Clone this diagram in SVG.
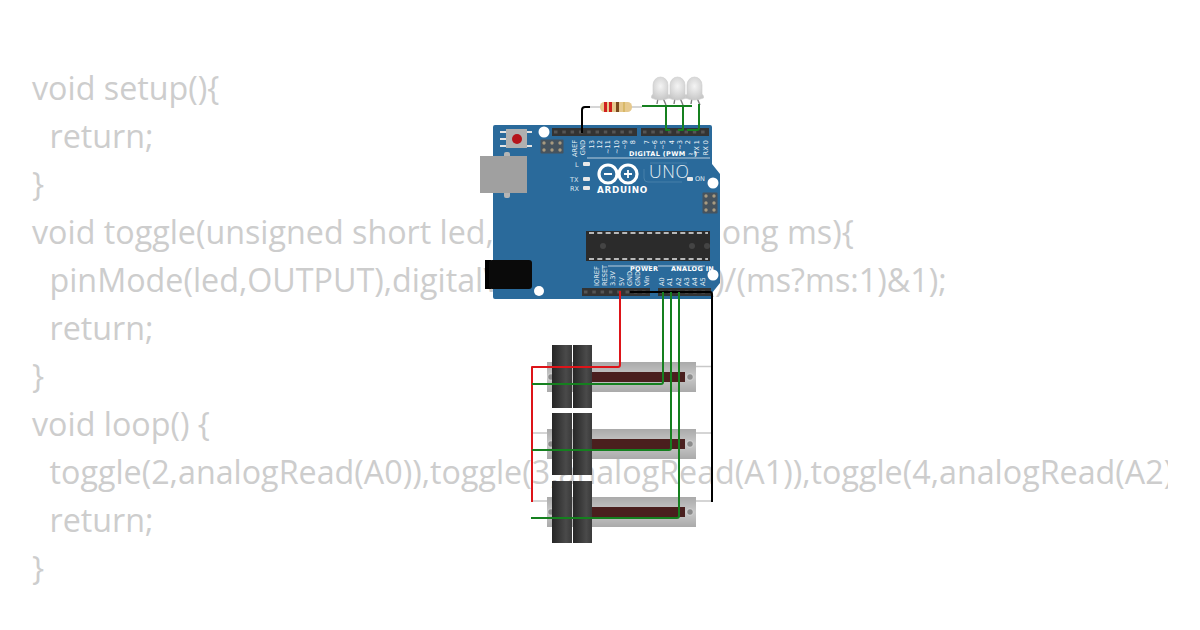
<svg xmlns="http://www.w3.org/2000/svg" width="1200" height="630" viewBox="0 0 1200 630">
<style>
.code{font-family:"Open Sans","DejaVu Sans",sans-serif;font-size:32.25px;fill:#cdcdcd}
.lb{font-family:"DejaVu Sans","Liberation Sans",sans-serif;font-size:6.6px;fill:#eef4f8;text-anchor:end}
.bl{font-family:"DejaVu Sans","Liberation Sans",sans-serif;font-weight:bold;fill:#fff}
.w{fill:none;stroke-width:2;stroke-linejoin:round}
.g{stroke:#15801f}.r{stroke:#dd1419}.k{stroke:#000}
.hdr{fill:#333}.hp{stroke:#555;stroke-width:3;stroke-dasharray:3.500 4.800;fill:none}.hole{fill:#fff}.pad{fill:#e8e8e8}.pin{fill:#a89a80}.pb{fill:#46535e}
.slot{fill:#4a1f1e}.scr{fill:#8c8c8c;stroke:#e4e4e4;stroke-width:.7}.lead{stroke:#c8c8c8;stroke-width:1.5;fill:none}
.led{stroke:#cfcfcf;stroke-width:.6}.leg{stroke:#7e7e7e;stroke-width:1.4;fill:none}
</style>
<defs>
<clipPath id="tc"><rect x="0" y="0" width="1168" height="630"/></clipPath>
<linearGradient id="sl" x1="0" x2="1" y1="0" y2="0"><stop offset="0" stop-color="#262626"/><stop offset=".7" stop-color="#4a4a4a"/><stop offset="1" stop-color="#3a3a3a"/></linearGradient>
<linearGradient id="pb" x1="0" x2="0" y1="0" y2="1"><stop offset="0" stop-color="#aaa"/><stop offset=".5" stop-color="#c8c8c8"/><stop offset="1" stop-color="#aaa"/></linearGradient>
<radialGradient id="ld" cx=".5" cy=".4" r=".6"><stop offset="0" stop-color="#f4f4f4"/><stop offset="1" stop-color="#c8c8c8"/></radialGradient>
<g id="pot"><rect x="547" y="0" width="149" height="30" fill="url(#pb)"/><rect x="592" y="10" width="93" height="10" class="slot"/><circle cx="690" cy="15" r="3.300" class="scr"/><circle cx="551" cy="15" r="3.300" class="scr"/></g>
</defs>
<g id="code" clip-path="url(#tc)">
<text class="code" x="32" y="100">void setup(){</text>
<text class="code" x="49.500" y="148">return;</text>
<text class="code" x="32" y="196">}</text>
<text class="code" x="32" y="244">void toggle(unsigned short led,unsigned long long ms){</text>
<text class="code" x="49.500" y="292">pinMode(led,OUTPUT),digitalWrite(led,millis()/(ms?ms:1)&amp;1);</text>
<text class="code" x="49.500" y="340">return;</text>
<text class="code" x="32" y="388">}</text>
<text class="code" x="32" y="436">void loop() {</text>
<text class="code" x="49.500" y="484">toggle(2,analogRead(A0)),toggle(3,analogRead(A1)),toggle(4,analogRead(A2));</text>
<text class="code" x="49.500" y="532">return;</text>
<text class="code" x="32" y="580">}</text>
</g>
<g id="arduino">
<path d="M495 125H710Q712 125 712 127V164L720 174V283L712 293V299H495Q493 299 493 297V127Q493 125 495 125Z" fill="#2a6a9b"/>
<rect x="504" y="152" width="6" height="46" rx="2" fill="#b5b5b5"/>
<rect x="480" y="156" width="47" height="37" fill="#a0a0a0"/>
<rect x="485" y="260" width="6" height="29" fill="#000"/><rect x="489" y="260" width="43" height="29" rx="3" fill="#0a0a0a"/>
<g fill="#e4e4e4"><rect x="500" y="131" width="7" height="2"/><rect x="500" y="138" width="7" height="2"/><rect x="500" y="145" width="7" height="2"/><rect x="526" y="131" width="6" height="2"/><rect x="526" y="145" width="6" height="2"/></g>
<rect x="506" y="129" width="21" height="19" fill="#b0b0b0"/><circle cx="517" cy="139" r="5" fill="#b5141b"/>
<circle class="hole" cx="544" cy="132" r="5.500"/><circle class="hole" cx="539" cy="291" r="5"/><circle class="hole" cx="713" cy="183" r="5.500"/><circle class="hole" cx="713" cy="275" r="5.500"/>
<rect x="540.500" y="139.500" width="23" height="14" rx="1" class="pb"/><rect x="702.500" y="192.500" width="15" height="21" rx="1" class="pb"/>
<g class="pin"><circle cx="544" cy="143" r="1.700"/><circle cx="552" cy="143" r="1.700"/><circle cx="560" cy="143" r="1.700"/><circle cx="544" cy="150" r="1.700"/><circle cx="552" cy="150" r="1.700"/><circle cx="560" cy="150" r="1.700"/><circle cx="706" cy="196" r="1.700"/><circle cx="714" cy="196" r="1.700"/><circle cx="706" cy="203" r="1.700"/><circle cx="714" cy="203" r="1.700"/><circle cx="706" cy="210" r="1.700"/><circle cx="714" cy="210" r="1.700"/></g>
<rect class="hdr" x="552" y="128" width="85" height="8"/><rect class="hdr" x="641" y="128" width="68" height="8"/><rect class="hdr" x="582" y="288" width="68" height="8"/><rect class="hdr" x="658" y="288" width="53" height="8"/>
<path class="hp" d="M554 132H636M643 132H708M584 292H649M660 292H710"/>
<rect x="586" y="231" width="124" height="30" fill="#2b2b2b"/>
<path d="M589 233H708M589 259H708" stroke="#e8e8e8" stroke-width="1.400" stroke-dasharray="5 3.300" fill="none"/>
<circle cx="603" cy="246" r="3" fill="#444"/><circle cx="692" cy="246" r="3" fill="#444"/><circle cx="707" cy="246" r="3" fill="#444"/>
<path d="M587 158H710M658 266H705M608 266H650" stroke="#dfe8ef" stroke-width=".8" fill="none"/>
<g fill="none" stroke="#fff" stroke-width="3.200"><circle cx="608" cy="174" r="9"/><circle cx="628" cy="174" r="9"/></g>
<path d="M604 174H612M624 174H632M628 170V178" stroke="#fff" stroke-width="1.800" fill="none"/>
<path d="M650 163H687M644 169V178Q644 182 648 182H682" stroke="#4f86ad" stroke-width=".8" fill="none"/>
<text x="649" y="178" font-family="'Open Sans',sans-serif" font-weight="300" font-size="17.500" letter-spacing=".6" fill="#e8f0f5">UNO</text>
<text class="bl" x="597" y="193" font-size="8.800" letter-spacing=".7">ARDUINO</text>
<text class="bl" x="629" y="155.500" font-size="6.500" letter-spacing=".35">DIGITAL (PWM ~)</text>
<text class="bl" x="630" y="271" font-size="6.500" letter-spacing=".3">POWER</text>
<text class="bl" x="671" y="271" font-size="6.500" letter-spacing=".3">ANALOG IN</text>
<rect class="pad" x="583" y="162" width="7" height="4" rx="1"/><rect class="pad" x="583" y="177" width="7" height="4" rx="1"/><rect class="pad" x="583" y="186" width="7" height="4" rx="1"/><rect class="pad" x="687" y="177" width="6" height="4" rx="1"/>
<g font-family="'DejaVu Sans',sans-serif" font-size="6.500" fill="#dfe8ef"><text x="575" y="167">L</text><text x="570" y="182">TX</text><text x="570" y="191">RX</text><text x="695" y="181">ON</text></g>
<g class="lb">
<text transform="translate(577,140) rotate(-90)">AREF</text><text transform="translate(585,140) rotate(-90)">GND</text><text transform="translate(594,140) rotate(-90)">13</text><text transform="translate(602,140) rotate(-90)">12</text><text transform="translate(610,140) rotate(-90)">~11</text><text transform="translate(619,140) rotate(-90)">~10</text><text transform="translate(627,140) rotate(-90)">~9</text><text transform="translate(635,140) rotate(-90)">8</text>
<text transform="translate(649,140) rotate(-90)">7</text><text transform="translate(657,140) rotate(-90)">~6</text><text transform="translate(665,140) rotate(-90)">~5</text><text transform="translate(674,140) rotate(-90)">4</text><text transform="translate(682,140) rotate(-90)">~3</text><text transform="translate(690,140) rotate(-90)">2</text>
<text transform="translate(699,140) rotate(-90)">TX 1</text><text transform="translate(708,140) rotate(-90)">RX 0</text>
</g>
<g class="lb" style="text-anchor:start">
<text transform="translate(599,286) rotate(-90)">IOREF</text><text transform="translate(607,286) rotate(-90)">RESET</text><text transform="translate(615,286) rotate(-90)">3.3V</text><text transform="translate(624,286) rotate(-90)">5V</text><text transform="translate(632,286) rotate(-90)">GND</text><text transform="translate(640,286) rotate(-90)">GND</text><text transform="translate(649,286) rotate(-90)">Vin</text>
<text transform="translate(664,286) rotate(-90)">A0</text><text transform="translate(672,286) rotate(-90)">A1</text><text transform="translate(681,286) rotate(-90)">A2</text><text transform="translate(689,286) rotate(-90)">A3</text><text transform="translate(697,286) rotate(-90)">A4</text><text transform="translate(705,286) rotate(-90)">A5</text>
</g>
</g>
<g id="resistor">
<path d="M588 107H642" stroke="#c8c8c8" stroke-width="1.500"/>
<rect x="600" y="102" width="32" height="10" rx="4.500" fill="#e6c98e"/>
<rect x="604" y="102" width="3" height="10" fill="#d0201f"/><rect x="609" y="102" width="3" height="10" fill="#d0201f"/><rect x="616" y="102" width="3" height="10" fill="#7a4a1e"/><rect x="623" y="102" width="2" height="10" fill="#d8b868"/>
</g>
<g id="led1"><path class="leg" d="M658 98L657 104M663 98L666 105"/><path class="led" d="M653 94V85A7.500 8 0 0 1 668 85V94L669.500 96V98Q660 102 651.500 98V96Z" style="fill:url(#ld)"/></g>
<g id="led2"><path class="leg" d="M675 98L674 104M680 98L683 105"/><path class="led" d="M670 94V85A7.500 8 0 0 1 685 85V94L686.500 96V98Q677 102 668.500 98V96Z" style="fill:url(#ld)"/></g>
<g id="led3"><path class="leg" d="M692 98L691 104M697 98L700 105"/><path class="led" d="M687 94V85A7.500 8 0 0 1 702 85V94L703.500 96V98Q694 102 685.500 98V96Z" style="fill:url(#ld)"/></g>
<g id="pot1"><path class="lead" d="M696 366.500H712"/><use href="#pot" y="362"/><rect x="552" y="345" width="20" height="63" fill="url(#sl)"/><rect x="573" y="345" width="19" height="63" fill="url(#sl)"/></g>
<g id="pot2"><path class="lead" d="M532 433H547M696 433H712"/><use href="#pot" y="429"/><rect x="552" y="413" width="20" height="62" fill="url(#sl)"/><rect x="573" y="413" width="19" height="62" fill="url(#sl)"/></g>
<g id="pot3"><path class="lead" d="M532 501H547M696 501H712"/><use href="#pot" y="497"/><rect x="552" y="481" width="20" height="62" fill="url(#sl)"/><rect x="573" y="481" width="19" height="62" fill="url(#sl)"/></g>
<g id="connectors">
<path class="w k" d="M590 107H585Q582 107 582 110V133"/>
<path class="w g" d="M642 106H692"/>
<path class="w g" d="M666 106V130H670"/>
<path class="w g" d="M683 106V130H678"/>
<path class="w g" d="M699 104V128Q699 130 697 130H687"/>
<path class="w r" d="M620 291V365Q620 367 618 367H532V502"/>
<path class="w k" d="M630 292H710Q712 292 712 294V502"/>
<path class="w g" d="M663 292V382Q663 384 661 384H532"/>
<path class="w g" d="M671 292V448Q671 450 669 450H532"/>
<path class="w g" d="M679 292V516Q679 518 677 518H531"/>
</g>
</svg>
